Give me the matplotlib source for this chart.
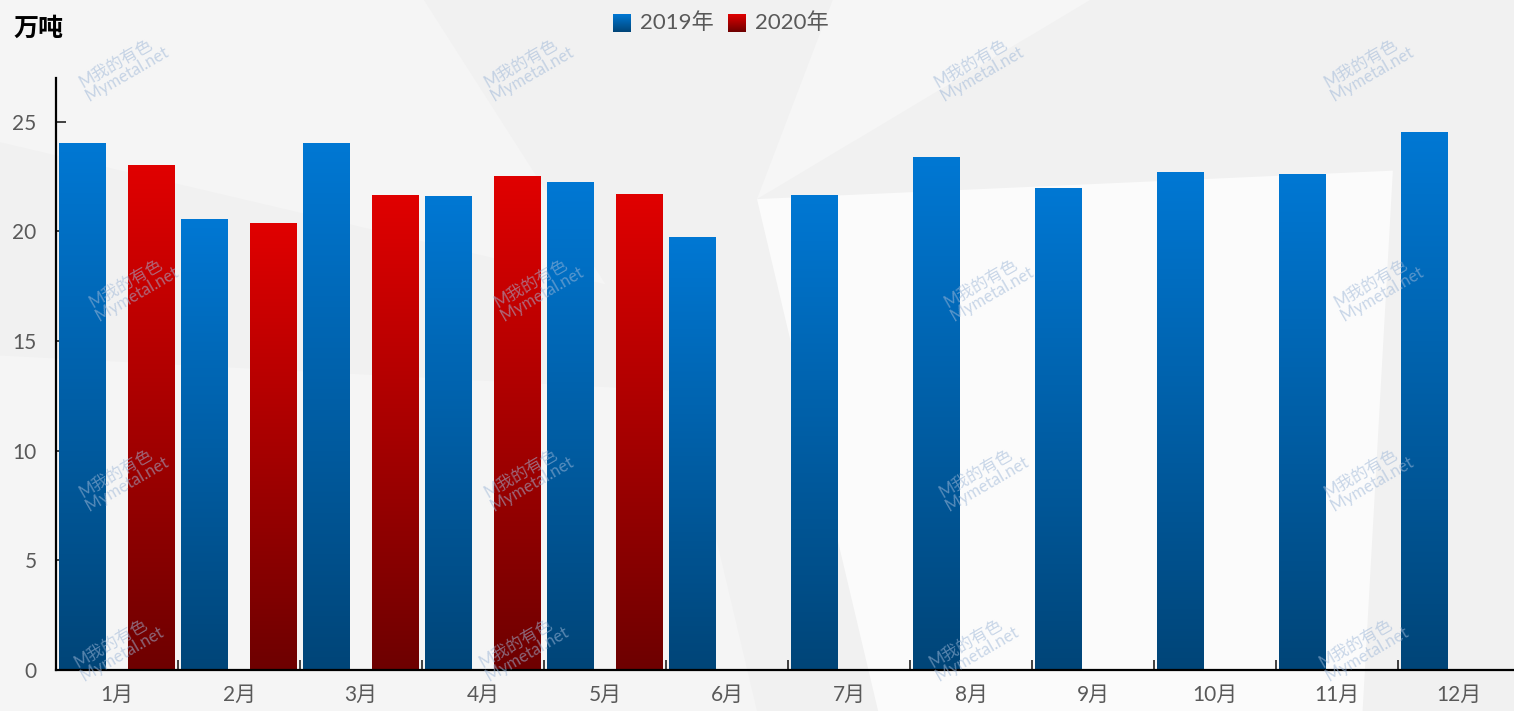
import numpy as np
import matplotlib.pyplot as plt
from matplotlib.patches import Polygon
from matplotlib.colors import LinearSegmentedColormap

months = ["1月", "2月", "3月", "4月", "5月", "6月", "7月", "8月", "9月", "10月", "11月", "12月"]
v2019 = [24.05, 20.55, 24.05, 21.6, 22.25, 19.75, 21.65, 23.4, 22.0, 22.7, 22.6, 24.55]
v2020 = [23.05, 20.4, 21.65, 22.55, 21.7]
series = ["2019年", "2020年"]

fam = ["Lato", "Noto Sans CJK SC"]
plt.rcParams['font.family'] = fam

blue = LinearSegmentedColormap.from_list("b", [(0, 0.27, 0.47), (0, 0.47, 0.83)])
red = LinearSegmentedColormap.from_list("r", [(0.43, 0, 0), (0.88, 0, 0)])

fig = plt.figure(figsize=(15.14, 7.11), dpi=100)
fig.patch.set_facecolor("#f1f1f1")

# light background shapes
shapes = [
    ([(0.0, 1.0), (0.28, 1.0), (0.4, 0.6), (0.0, 0.8)], "#f5f5f5"),
    ([(0.0, 0.5), (0.45, 0.45), (0.5, 0.0), (0.0, 0.0)], "#f5f5f5"),
    ([(0.5, 0.72), (0.92, 0.76), (0.9, 0.0), (0.58, 0.0)], "#fbfbfb"),
    ([(0.55, 1.0), (0.72, 1.0), (0.5, 0.72)], "#f6f6f6"),
]
for pts, c in shapes:
    fig.patches.append(Polygon(pts, closed=True, transform=fig.transFigure,
                               facecolor=c, edgecolor="none", zorder=-10))

ax = fig.add_axes([56 / 1514, 41 / 711, 1464 / 1514, 592 / 711])
ax.patch.set_alpha(0)

x = np.arange(len(months))
off, w = 0.279, 0.385

def grad_bars(xs, vals, cmap):
    bars = ax.bar(xs, vals, width=w, color="none", edgecolor="none", zorder=2)
    grad = np.linspace(0, 1, 256).reshape(-1, 1)
    for b in bars:
        x0, y0 = b.get_x(), b.get_y()
        im = ax.imshow(grad, cmap=cmap, origin="lower", aspect="auto",
                       extent=[x0, x0 + b.get_width(), y0, y0 + b.get_height()], zorder=2)
        im.set_clip_path(b)
    return bars

grad_bars(x - off, v2019, blue)
grad_bars(x[:len(v2020)] + off, v2020, red)

ax.set_xlim(-0.5, 11.5)
ax.set_ylim(0, 27)
ax.set_yticks([0, 5, 10, 15, 20, 25])
ax.set_xticks(x)
ax.set_xticklabels(months)
ax.set_xticks(np.arange(0.5, 11.5, 1), minor=True)
ax.tick_params(axis="x", which="major", length=0, pad=11, labelsize=15, labelcolor="#595959")
ax.tick_params(axis="x", which="minor", direction="in", length=7, width=1.2, color="#222222")
ax.tick_params(axis="y", direction="in", length=7, width=1.2, pad=14, labelsize=15,
               labelcolor="#595959", color="#222222")
for s in ["top", "right"]:
    ax.spines[s].set_visible(False)
for s in ["left", "bottom"]:
    ax.spines[s].set_linewidth(1.6)
    ax.spines[s].set_color("black")

fig.text(13 / 1514, 1 - 29 / 711, "万吨", fontsize=18, fontweight="bold", va="center",
         family=["Noto Sans CJK SC"])

# legend
lx = [613, 728]
for i, (name, cmap) in enumerate(zip(series, [blue, red])):
    lax = fig.add_axes([lx[i] / 1514, 1 - 32 / 711, 18 / 1514, 18 / 711])
    lax.imshow(np.linspace(0, 1, 64).reshape(-1, 1), cmap=cmap, origin="lower", aspect="auto")
    lax.axis("off")
    fig.text((lx[i] + 27) / 1514, 1 - 23 / 711, name, fontsize=16, color="#595959", va="center")

# watermarks
wm = [(120, 70), (525, 70), (975, 70), (1365, 70), (130, 290), (535, 290), (985, 290), (1375, 290),
      (120, 480), (525, 480), (980, 480), (1365, 480), (115, 650), (520, 650), (970, 650), (1360, 650)]
for px, py in wm:
    fig.text(px / 1514, 1 - py / 711, "M我的有色\n  Mymetal.net", fontsize=12, color="#9fb8d8",
             alpha=0.55, rotation=30, ha="center", va="center", linespacing=0.9, zorder=5)

fig.savefig("out.png", dpi=100, facecolor=fig.get_facecolor())
